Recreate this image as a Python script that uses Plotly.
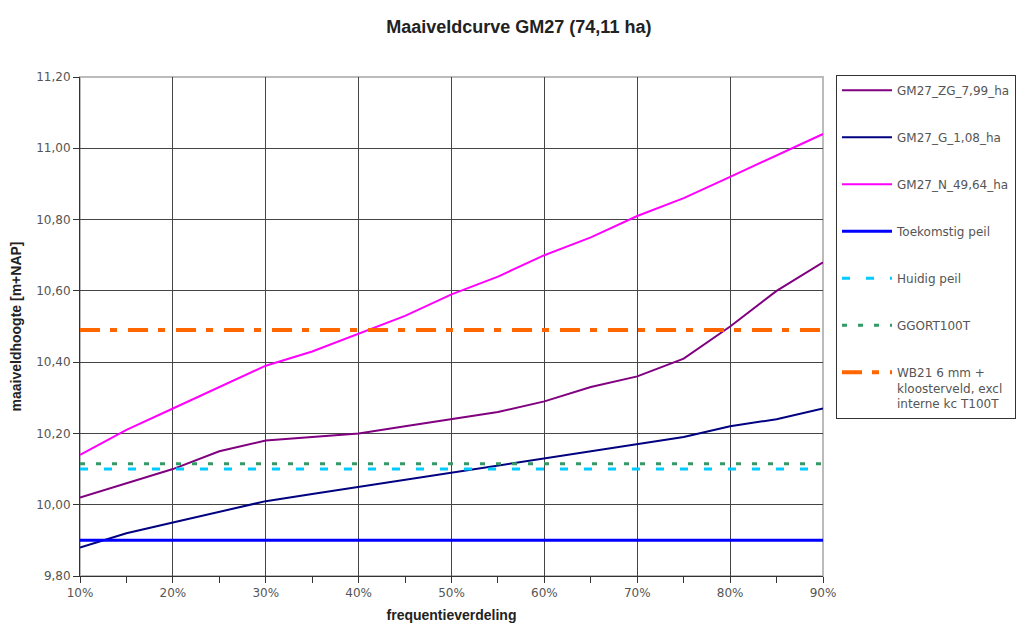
import plotly.graph_objects as go

freq = [10, 15, 20, 25, 30, 35, 40, 45, 50, 55, 60, 65, 70, 75, 80, 85, 90]
gm27_zg = [10.02, 10.06, 10.10, 10.15, 10.18, 10.19, 10.20, 10.22, 10.24, 10.26, 10.29, 10.33, 10.36, 10.41, 10.50, 10.60, 10.68]
gm27_g = [9.88, 9.92, 9.95, 9.98, 10.01, 10.03, 10.05, 10.07, 10.09, 10.11, 10.13, 10.15, 10.17, 10.19, 10.22, 10.24, 10.27]
gm27_n = [10.14, 10.21, 10.27, 10.33, 10.39, 10.43, 10.48, 10.53, 10.59, 10.64, 10.70, 10.75, 10.81, 10.86, 10.92, 10.98, 11.04]
toekomstig_peil = 9.90
huidig_peil = 10.10
ggort100t = 10.115
wb21 = 10.49

x_tickvals = [10, 20, 30, 40, 50, 60, 70, 80, 90]
x_ticktext = ["10%", "20%", "30%", "40%", "50%", "60%", "70%", "80%", "90%"]

fig = go.Figure()

series = [
    ("GM27_ZG_7,99_ha", gm27_zg, dict(color="#800080", width=2)),
    ("GM27_G_1,08_ha", gm27_g, dict(color="#000080", width=2)),
    ("GM27_N_49,64_ha", gm27_n, dict(color="#FF00FF", width=2)),
    ("Toekomstig peil", [toekomstig_peil] * len(freq), dict(color="#0000FF", width=3)),
    ("Huidig peil", [huidig_peil] * len(freq), dict(color="#00CCFF", width=3, dash="8px,16px")),
    ("GGORT100T", [ggort100t] * len(freq), dict(color="#339966", width=3, dash="5px,11px")),
    ("WB21 6 mm +<br>kloosterveld, excl<br>interne kc T100T", [wb21] * len(freq),
     dict(color="#FF6600", width=4, dash="20px,10px,7px,11px")),
]
for i, (name, ys, line) in enumerate(series):
    fig.add_trace(go.Scatter(x=freq, y=ys, mode="lines", name=name, line=line,
                             legendgroup=f"g{i}"))

tick_font = dict(family="DejaVu Sans, sans-serif", size=12, color="#555")
bold_font = "Liberation Sans, Arial, sans-serif"

fig.update_layout(
    width=1032, height=626,
    paper_bgcolor="white", plot_bgcolor="white",
    separators=",.",
    margin=dict(l=72, r=217, t=69, b=58),
    title=dict(text="<b>Maaiveldcurve GM27 (74,11 ha)</b>", x=0.495, xref="container",
               y=0.970, yref="container", xanchor="center", yanchor="middle",
               font=dict(family=bold_font, size=18, color="#222")),
    showlegend=True,
    legend=dict(x=1.0175, y=1.004, xanchor="left", yanchor="top",
                bordercolor="#333", borderwidth=1, bgcolor="white",
                font=dict(family="DejaVu Sans, sans-serif", size=12, color="#555"),
                tracegroupgap=28, traceorder="grouped", itemwidth=50, maxheight=600,
                valign="top"),
    xaxis=dict(range=[10, 90], tickmode="array", tickvals=x_tickvals, ticktext=x_ticktext,
               showgrid=True, gridcolor="#444", gridwidth=1,
               showline=True, linecolor="#333", linewidth=1, mirror=False,
               ticks="outside", ticklen=6, tickcolor="#333",
               minor=dict(dtick=5, tick0=10, ticks="outside", ticklen=6, tickcolor="#333", showgrid=False),
               tickfont=tick_font, zeroline=False, automargin=False,
               title=dict(text="<b>frequentieverdeling</b>", standoff=10,
                          font=dict(family=bold_font, size=14, color="#222"))),
    yaxis=dict(range=[9.8, 11.2], dtick=0.2, tick0=9.8, tickformat=".2f",
               showgrid=True, gridcolor="#444", gridwidth=1,
               showline=True, linecolor="#333", linewidth=1,
               ticks="outside", ticklen=6, tickcolor="#333",
               tickfont=tick_font, zeroline=False, automargin=False,
               title=dict(text="<b>maaiveldhoogte [m+NAP]</b>", standoff=12,
                          font=dict(family=bold_font, size=14, color="#222"))),
    shapes=[dict(type="rect", xref="paper", yref="paper", x0=0, x1=1, y0=0, y1=1,
                 line=dict(color="#bbb", width=2), layer="below")],
)

fig.write_html("out.html")
